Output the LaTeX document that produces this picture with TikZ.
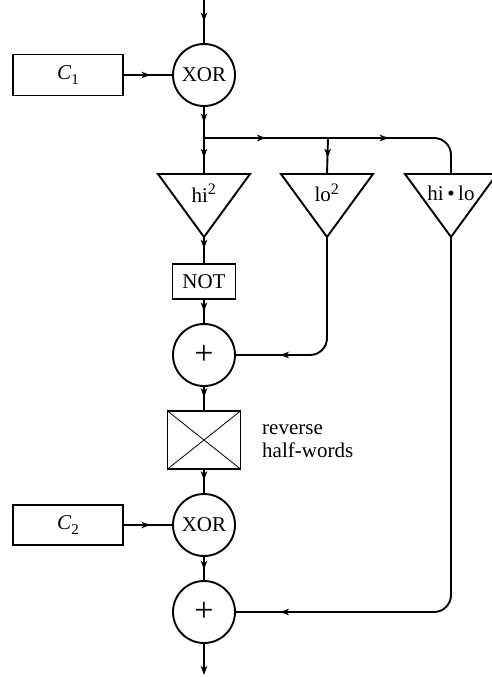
\documentclass[tikz,border=0pt]{standalone}
\usepackage{fontspec}
\setmainfont{Liberation Serif}
\usetikzlibrary{arrows.meta,decorations.markings}
\tikzset{
  lw/.style={line width=1.9pt},
  gate/.style={draw,lw,circle,minimum size=62pt,inner sep=0pt,font=\fontsize{21}{23}\selectfont},
  cbox/.style={draw,lw,rectangle,inner sep=0pt,font=\fontsize{21}{23}\selectfont},
  lbl/.style={font=\fontsize{21}{23}\selectfont,inner sep=0pt},
  midarrow/.style={postaction={decorate},decoration={markings,mark=at position #1 with {\arrow{Stealth[length=9pt,width=6.5pt,inset=2.5pt]}}}},
  midarrow/.default=0.5,
  wire/.style={lw,rounded corners=17pt}
}
\begin{document}
\begin{tikzpicture}[x=1pt,y=-1pt]
\useasboundingbox (0,0) rectangle (491,677);
% nodes
\coordinate (in) at (204,0);
\node[gate] (xor1) at (204,75) {XOR};
\node[cbox,minimum width=110pt,minimum height=41pt] (c1) at (68,75) {\textit{C}\raisebox{-0.2em}{\fontsize{15}{15}\selectfont 1}};
\coordinate (j1) at (204,138);
\coordinate (j2) at (328,138);
\coordinate (j3) at (451,138);
% triangles
\coordinate (t1top) at (204,174); \coordinate (t1apex) at (204,237);
\coordinate (t2top) at (327,174); \coordinate (t2apex) at (327,237);
\coordinate (t3top) at (451,174); \coordinate (t3apex) at (451,237);
\draw[lw,line join=miter] (158,174) -- (250,174) -- (t1apex) -- cycle;
\draw[lw,line join=miter] (281,174) -- (373,174) -- (t2apex) -- cycle;
\draw[lw,line join=miter] (405,174) -- (497,174) -- (t3apex) -- cycle;
\node[lbl] (t1lbl) at (204,193) {hi\textsuperscript{\fontsize{16}{16}\selectfont 2}};
\node[lbl] (t2lbl) at (327,193) {lo\textsuperscript{\fontsize{16}{16}\selectfont 2}};
\node[lbl] (t3lbl) at (451,193) {hi\,\textbullet\,lo};
\node[cbox,minimum width=63pt,minimum height=35pt] (not) at (204,281.5) {NOT};
\node[gate,font=\fontsize{34}{34}\selectfont] (add1) at (204,355) {+};
\node[draw,lw,rectangle,minimum width=73pt,minimum height=58pt,inner sep=0pt,
  path picture={\draw[line width=0.8pt] (path picture bounding box.north west) -- (path picture bounding box.south east)
  (path picture bounding box.north east) -- (path picture bounding box.south west);}] (rev) at (204,440) {};
\node[lbl,anchor=west,align=left] (revlbl) at (262,441) {reverse\\half-words};
\node[gate] (xor2) at (204,525) {XOR};
\node[cbox,minimum width=110pt,minimum height=40pt] (c2) at (68,525) {\textit{C}\raisebox{-0.2em}{\fontsize{15}{15}\selectfont 2}};
\node[gate,font=\fontsize{34}{34}\selectfont] (add2) at (204,612) {+};
\coordinate (out) at (204,675);
% connectors
\draw[lw,midarrow=0.5] (in) -- (xor1.north);
\draw[lw,midarrow=0.55] (c1.east) -- (xor1.west);
\draw[lw,midarrow=0.5] (xor1.south) -- (j1);
\draw[lw,midarrow=0.55] (j1) -- (t1top);
\draw[lw,midarrow=0.5] (j1) -- (j2);
\draw[lw,midarrow=0.55] (j2) -- (t2top);
\draw[wire,midarrow=0.4] (j2) -- (j3) -- (t3top);
\draw[lw,midarrow=0.45] (t1apex) -- (not.north);
\draw[lw,midarrow=0.5] (not.south) -- (add1.north);
\draw[wire,midarrow=-44pt] (t2apex) -- (t2apex |- add1.east) -- (add1.east);
\draw[lw,midarrow=0.45] (add1.south) -- (rev.north);
\draw[lw,midarrow=0.45] (rev.south) -- (xor2.north);
\draw[lw,midarrow=0.55] (c2.east) -- (xor2.west);
\draw[lw,midarrow=0.55] (xor2.south) -- (add2.north);
\draw[wire,midarrow=-44pt] (t3apex) -- (t3apex |- add2.east) -- (add2.east);
\draw[lw,-{Stealth[length=9pt,width=6.5pt,inset=2.5pt]}] (add2.south) -- (out);
\end{tikzpicture}
\end{document}
